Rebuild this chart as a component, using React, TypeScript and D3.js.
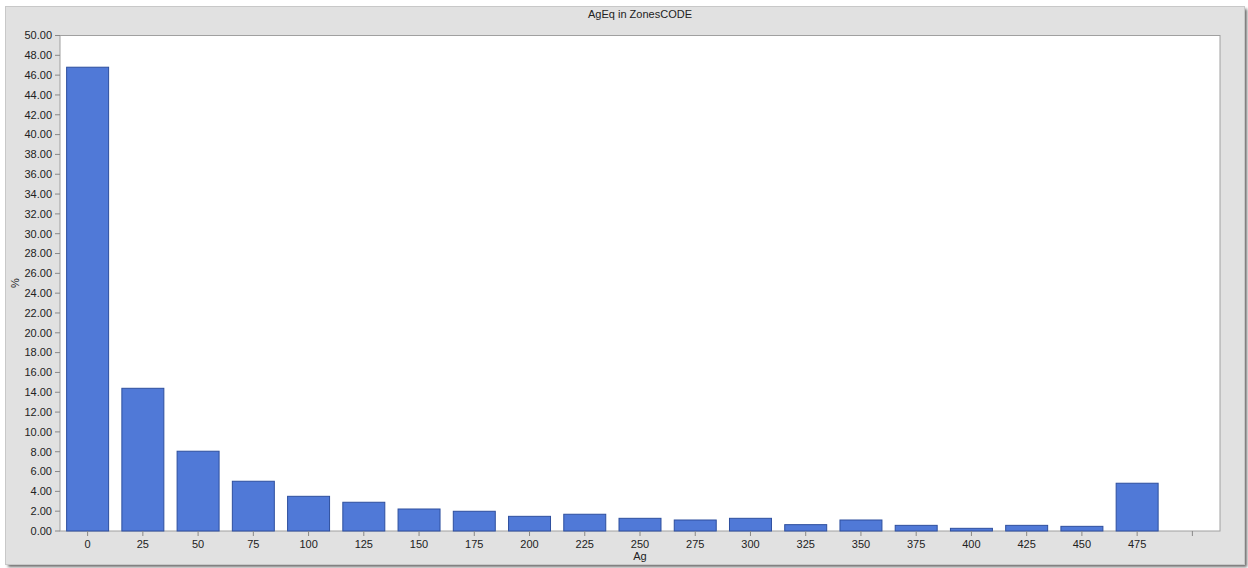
import React from "react";
import * as d3 from "d3";

const categories = ["0","25","50","75","100","125","150","175","200","225","250","275","300","325","350","375","400","425","450","475",""];
const values = [46.8,14.4,8.05,5.02,3.5,2.9,2.22,1.99,1.48,1.69,1.28,1.11,1.28,0.64,1.11,0.57,0.27,0.57,0.47,4.82,0];
const yTicks = d3.range(0, 50.001, 2);
const title = "AgEq in ZonesCODE";
const xTitle = "Ag";
const yTitle = "%";

export default function App() {
  const W = 1248, H = 568;
  const left = 60, right = 1220, top = 35.5, bottom = 531;
  const x = d3.scaleBand().domain(categories.map((c, i) => String(i))).range([left, right]).paddingInner(0.24).paddingOuter(0.12);
  const y = d3.scaleLinear().domain([0, 50]).range([bottom, top]);
  const font = "'Liberation Sans', Arial, sans-serif";
  const centers = categories.map((_, i) => (x(String(i)) as number) + x.bandwidth() / 2);
  return (
    <svg width={W} height={H} style={{ position: "absolute", left: 0, top: 0 }} fontFamily={font}>
      <defs>
        <filter id="sh" x="-5%" y="-5%" width="110%" height="110%">
          <feGaussianBlur stdDeviation="1.5" />
        </filter>
      </defs>
      <rect x={8} y={9} width={1239} height={558} fill="#6a6a6a" filter="url(#sh)" />
      <rect x={5.5} y={6.5} width={1239} height={558} fill="#e1e1e1" stroke="#c8c8c8" />
      <text x={640} y={18} textAnchor="middle" fontSize={11} fill="#222">{title}</text>
      <rect x={left} y={top} width={right - left} height={bottom - top} fill="#fff" stroke="#a0a0a0" />
      {values.map((v, i) => v > 0 ? (
        <rect key={i} x={x(String(i))} y={y(v)} width={x.bandwidth()} height={bottom - y(v)} fill="#5079d7" stroke="#2e4f9e" strokeWidth={1} />
      ) : null)}
      {yTicks.map((t) => (
        <g key={t}>
          <line x1={left - 5} x2={left} y1={y(t)} y2={y(t)} stroke="#888" />
          <text x={52} y={y(t)} dy="0.35em" textAnchor="end" fontSize={11} fill="#222">{t.toFixed(2)}</text>
        </g>
      ))}
      {categories.map((c, i) => (
        <g key={i}>
          <line x1={centers[i]} x2={centers[i]} y1={bottom} y2={bottom + 5} stroke="#888" />
          <text x={centers[i]} y={548} textAnchor="middle" fontSize={11} fill="#222">{c}</text>
        </g>
      ))}
      <text x={640} y={560} textAnchor="middle" fontSize={11} fill="#222">{xTitle}</text>
      <text transform={`translate(19,283) rotate(-90)`} textAnchor="middle" fontSize={11} fill="#222">{yTitle}</text>
    </svg>
  );
}
